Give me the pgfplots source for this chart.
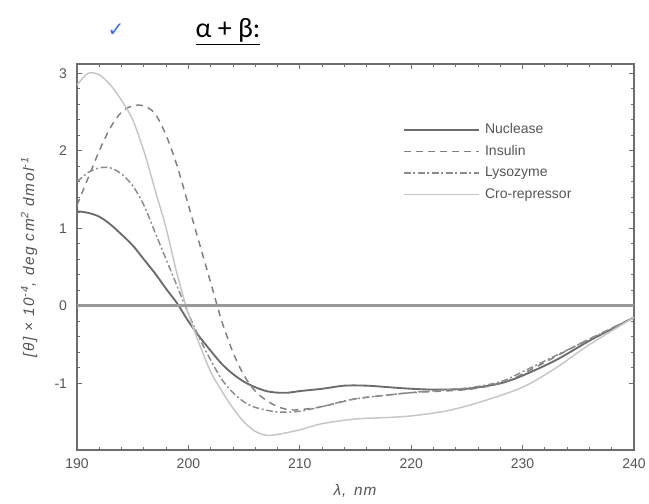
\documentclass[border=0pt]{standalone}
\usepackage{pgfplots}
\pgfplotsset{compat=1.18}
\usepackage{fontspec}
\setmainfont{Liberation Sans}
\newfontfamily\calib{Carlito}
\newfontfamily\dejavu{DejaVu Sans}
\definecolor{axgray}{HTML}{6E6E6E}
\definecolor{txtgray}{HTML}{555555}
\definecolor{checkblue}{HTML}{3B6FE8}
\begin{document}
\begin{tikzpicture}[x=1pt,y=1pt]
\begin{axis}[
  at={(0,0)}, anchor=south west,
  scale only axis, width=417.75pt, height=289.5pt,
  xmin=190, xmax=240, ymin=-1.86, ymax=3.12,
  xtick={190,200,...,240}, ytick={-1,0,1,2,3},
  minor x tick num=4, minor y tick num=4,
  tick align=inside, major tick length=4pt, minor tick length=2.5pt,
  axis line style={axgray, line width=1.3pt},
  every tick/.style={axgray, line width=0.6pt},
  tick label style={font=\fontsize{10.5}{12}\selectfont, text=txtgray},
  /pgf/number format/assume math mode=true,
  xticklabel style={yshift=-3pt},
  yticklabel style={xshift=-4pt},
  xlabel={\addfontfeature{LetterSpace=6}\textit{λ,\, nm}},
  ylabel={\addfontfeature{LetterSpace=11}\textit{[θ] × 10\textsuperscript{-4}, deg cm\textsuperscript{2} dmol\textsuperscript{-1}}},
  label style={font=\fontsize{11.5}{13}\selectfont, text=txtgray},
  xlabel style={yshift=-5pt},
  ylabel style={yshift=6pt},
  legend style={draw=none, fill=none, at={(0.578,0.86)}, anchor=north west,
    font=\fontsize{10.5}{12}\selectfont, text=txtgray, row sep=3.2pt},
  legend cell align=left,
  legend image code/.code={\draw[#1] (0pt,0pt) -- (56pt,0pt);},
  legend style={nodes={inner xsep=4pt}},
]
\addplot[gray!85!black, line width=1.4pt, smooth] coordinates {
(190,1.22) (191,1.2) (192,1.15) (193,1.05) (194,0.92) (195,0.78) (196,0.6) (197,0.42)
(198,0.22) (199,0.03) (200,-0.2) (201,-0.4) (202,-0.58) (203,-0.75) (204,-0.88)
(205,-0.98) (206,-1.05) (207,-1.1) (208,-1.12) (209,-1.12) (210,-1.1) (212,-1.07)
(214,-1.03) (216,-1.03) (218,-1.05) (220,-1.07) (222,-1.08) (225,-1.07) (228,-1.0)
(230,-0.9) (233,-0.7) (236,-0.45) (238,-0.3) (240,-0.15)};
\addlegendentry{Nuclease}
\addplot[gray, line width=1.1pt, dash pattern=on 5pt off 4pt, smooth] coordinates {
(190,1.3) (191,1.65) (192,2.0) (193,2.3) (194,2.5) (195,2.58) (196,2.58) (197,2.48)
(198,2.2) (199,1.8) (200,1.3) (201,0.8) (202,0.3) (203,-0.2) (204,-0.6) (205,-0.9)
(206,-1.1) (207,-1.22) (208,-1.3) (209,-1.34) (210,-1.34) (212,-1.3) (215,-1.2)
(218,-1.15) (220,-1.12) (225,-1.08) (228,-1.0) (230,-0.88) (235,-0.5) (240,-0.15)};
\addlegendentry{Insulin}
\addplot[gray!90, line width=1.1pt, dash pattern=on 5pt off 2pt on 1.5pt off 2pt, smooth] coordinates {
(190,1.6) (191,1.72) (192,1.78) (193,1.78) (194,1.7) (195,1.55) (196,1.3) (197,0.95)
(198,0.6) (199,0.25) (200,-0.1) (201,-0.42) (202,-0.7) (203,-0.95) (204,-1.12)
(205,-1.24) (206,-1.31) (208,-1.37) (210,-1.36) (212,-1.3) (215,-1.2) (220,-1.12)
(225,-1.06) (228,-0.98) (230,-0.85) (235,-0.5) (240,-0.15)};
\addlegendentry{Lysozyme}
\addplot[gray!45, line width=1.1pt, smooth] coordinates {
(190,2.85) (191,3.0) (192,2.98) (193,2.85) (194,2.65) (195,2.4) (196,2.0) (197,1.5)
(198,1.0) (199,0.4) (200,-0.1) (201,-0.5) (202,-0.85) (203,-1.1) (204,-1.32)
(205,-1.5) (206,-1.62) (207,-1.67) (208,-1.66) (210,-1.6) (212,-1.52) (215,-1.46)
(218,-1.44) (220,-1.42) (223,-1.36) (226,-1.25) (230,-1.05) (233,-0.8) (236,-0.5)
(240,-0.15)};
\addlegendentry{Cro-repressor}
\addplot[gray!80, line width=2pt, forget plot] coordinates {(190,0) (240,0)};
\end{axis}
\node[anchor=center, text=checkblue, font=\dejavu\fontsize{15}{17}\selectfont] at (29.25,315) {✓};
\node[anchor=center, font=\calib\fontsize{21}{24}\selectfont] at (113.25,314) {\underline{α + β:}};
\pgfresetboundingbox
\path[use as bounding box] (-57.75,-39.75) rectangle (429,337.5);
\end{tikzpicture}
\end{document}
